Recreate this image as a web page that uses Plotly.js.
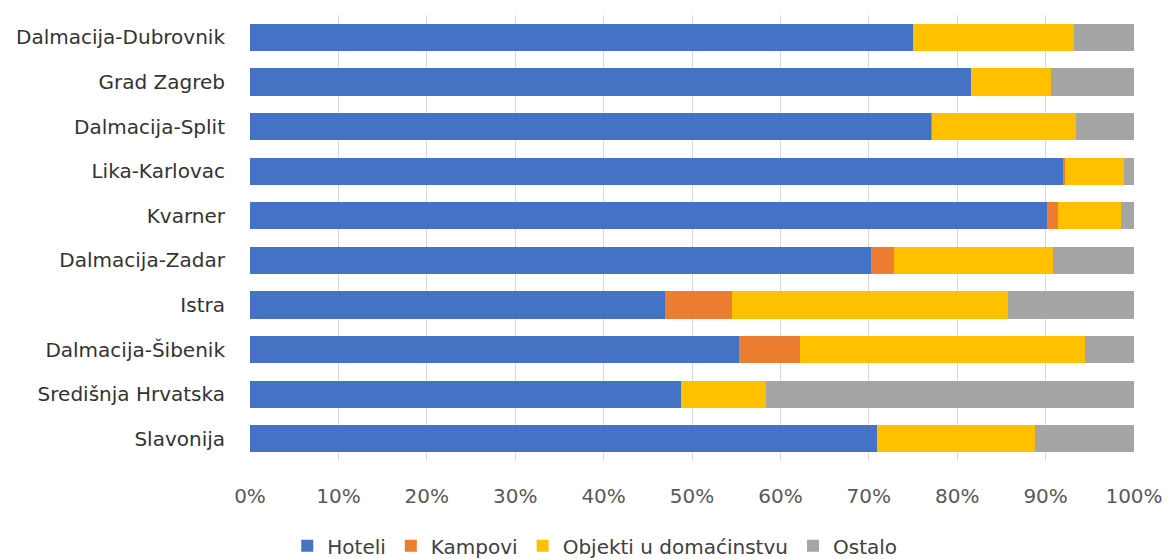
<!DOCTYPE html>
<html>
<head>
<meta charset="utf-8">
<script src="https://cdn.plot.ly/plotly-3.0.1.min.js"></script>
<style>html,body{margin:0;padding:0;background:#fff;}#chart{width:1168px;height:559px;}</style>
</head>
<body>
<div id="chart"></div>
<script>
const regions = ["Dalmacija-Dubrovnik","Grad Zagreb","Dalmacija-Split","Lika-Karlovac","Kvarner","Dalmacija-Zadar","Istra","Dalmacija-Šibenik","Središnja Hrvatska","Slavonija"];
const hoteli   = [75.0, 81.6, 77.0, 92.0, 90.2, 70.2, 47.0, 55.3, 48.7, 70.9];
const kampovi  = [0.0, 0.0, 0.1, 0.2, 1.2, 2.6, 7.5, 6.9, 0.0, 0.0];
const objekti  = [18.2, 9.0, 16.3, 6.7, 7.1, 18.0, 31.2, 32.3, 9.7, 17.9];
const ostalo   = [6.8, 9.4, 6.6, 1.1, 1.5, 9.2, 14.3, 5.5, 41.6, 11.2];
const seriesNames = ["Hoteli","Kampovi","Objekti u domaćinstvu","Ostalo"];
const seriesColors = ["#4472C4","#ED7D31","#FFC000","#A5A5A5"];
const seriesData = [hoteli, kampovi, objekti, ostalo];
const xTicks = [0,10,20,30,40,50,60,70,80,90,100];
const xTickText = ["0%","10%","20%","30%","40%","50%","60%","70%","80%","90%","100%"];

const traces = seriesData.map((vals, i) => ({
  type: "bar",
  orientation: "h",
  name: seriesNames[i],
  y: regions,
  x: vals,
  marker: {color: seriesColors[i], line: {width: 0}},
  hoverinfo: "x+y+name"
}));

const layout = {
  width: 1168, height: 559,
  margin: {l: 250, r: 34, t: 15, b: 98, autoexpand: false},
  barmode: "stack",
  bargap: 0.39,
  paper_bgcolor: "#fff",
  plot_bgcolor: "#fff",
  font: {family: "'DejaVu Sans', sans-serif", size: 20, color: "#262626"},
  xaxis: {
    range: [0, 100],
    tickvals: xTicks,
    ticktext: xTickText,
    showgrid: true,
    gridcolor: "#D9D9D9",
    gridwidth: 1,
    zeroline: false,
    showline: false,
    ticks: "outside",
    ticklen: 17,
    tickcolor: "rgba(0,0,0,0)",
    tickfont: {size: 20, color: "#595959"},
    fixedrange: true
  },
  yaxis: {
    type: "category",
    autorange: "reversed",
    showgrid: false,
    zeroline: false,
    showline: false,
    ticks: "outside",
    ticklen: 20,
    tickcolor: "rgba(0,0,0,0)",
    tickfont: {size: 20, color: "#333333"},
    fixedrange: true
  },
  showlegend: true,
  legend: {
    orientation: "h",
    x: 0.39, xanchor: "center",
    y: -0.19, yanchor: "middle",
    font: {size: 20, color: "#404040"},
    traceorder: "normal",
    itemwidth: 30
  }
};

Plotly.newPlot("chart", traces, layout, {displayModeBar: false, staticPlot: true});
</script>
</body>
</html>
